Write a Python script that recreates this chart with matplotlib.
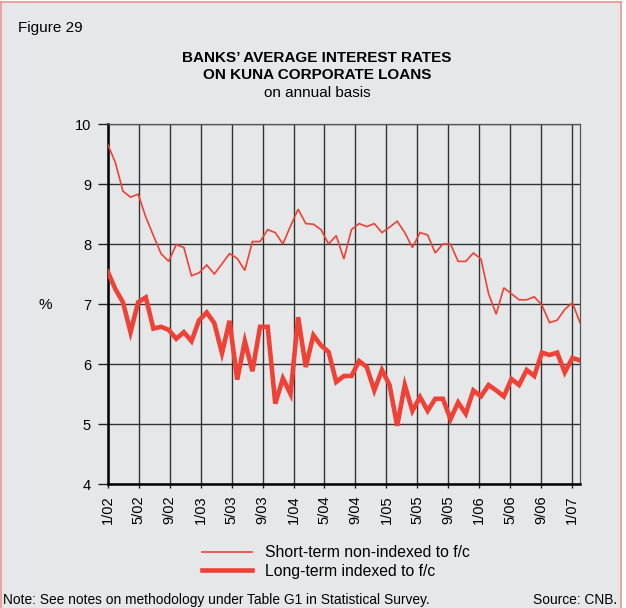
import numpy as np
import matplotlib
matplotlib.use("Agg")
import matplotlib.pyplot as plt
from matplotlib.lines import Line2D

plt.rcParams['font.family'] = ['Liberation Sans', 'DejaVu Sans']

# month labels of the vertical grid lines
tick_labels = ["1/02", "5/02", "9/02", "1/03", "5/03", "9/03", "1/04", "5/04",
               "9/04", "1/05", "5/05", "9/05", "1/06", "5/06", "9/06", "1/07"]

# short-term kuna loans not indexed to foreign currency, %
short_term = [9.66, 9.36, 8.88, 8.78, 8.83, 8.45, 8.14, 7.84, 7.71, 7.99,
              7.94, 7.47, 7.52, 7.65, 7.50, 7.67, 7.84, 7.76, 7.56, 8.04,
              8.04, 8.24, 8.19, 8.00, 8.30, 8.58, 8.34, 8.33, 8.24, 8.00,
              8.14, 7.75, 8.24, 8.34, 8.29, 8.34, 8.19, 8.28, 8.38, 8.19,
              7.94, 8.19, 8.15, 7.85, 8.00, 8.00, 7.71, 7.71, 7.85, 7.75,
              7.17, 6.83, 7.27, 7.17, 7.07, 7.07, 7.12, 6.98, 6.69, 6.73,
              6.91, 7.02, 6.69]

# long-term kuna loans indexed to foreign currency, %
long_term = [7.54, 7.25, 7.03, 6.53, 7.03, 7.11, 6.59, 6.62, 6.57, 6.42,
             6.53, 6.38, 6.73, 6.86, 6.68, 6.18, 6.72, 5.74, 6.38, 5.88,
             6.62, 6.62, 5.34, 5.76, 5.50, 6.78, 5.95, 6.48, 6.31, 6.20,
             5.70, 5.80, 5.80, 6.05, 5.95, 5.56, 5.90, 5.65, 4.97, 5.65,
             5.22, 5.45, 5.22, 5.42, 5.42, 5.08, 5.36, 5.17, 5.56, 5.46,
             5.65, 5.56, 5.46, 5.75, 5.65, 5.90, 5.80, 6.19, 6.15, 6.19,
             5.86, 6.10, 6.06]

RED = '#ef4136'
BG = '#e6e7e8'

fig = plt.figure(figsize=(6.26, 6.08), dpi=100)
fig.patch.set_facecolor('white')

# grey panel with a thin salmon frame
panel = plt.Rectangle((1 / 626, 0), 620 / 626, 1 - 2 / 608, transform=fig.transFigure,
                      facecolor=BG, edgecolor='none', zorder=-2)
fig.patches.append(panel)
for xs, ys in [([1 / 626, 1 / 626], [0, 1 - 2 / 608]),
               ([1 / 626, 621 / 626], [1 - 2 / 608, 1 - 2 / 608]),
               ([621 / 626, 621 / 626], [0, 1 - 2 / 608])]:
    fig.add_artist(Line2D(xs, ys, transform=fig.transFigure, color='#e9938c', lw=1.2))

ax = fig.add_axes([107.7 / 626, 124 / 608, 472.3 / 626, 360 / 608])
ax.set_facecolor(BG)

n = len(short_term)
x = np.linspace(0, 61, n)
ax.plot(x, short_term, color=RED, lw=1.2, solid_joinstyle='miter', zorder=3)
ax.plot(x, long_term, color=RED, lw=3.3, solid_joinstyle='miter', zorder=3)

ax.set_xlim(0, 61)
ax.set_ylim(4, 10)
ax.set_xticks(np.arange(0, 61, 4))
ax.set_xticklabels(tick_labels, rotation=90, fontsize=10.5)
ax.set_yticks(range(4, 11))
ax.tick_params(axis='y', labelsize=10.5, length=7, width=1, pad=5, color='#222222')
ax.tick_params(axis='x', length=3, width=1, pad=5, color='#222222')
ax.grid(True, color='#333333', lw=1.0)
ax.set_axisbelow(True)

for side in ['top', 'right']:
    ax.spines[side].set_color('#555555')
    ax.spines[side].set_linewidth(0.9)
for side in ['left', 'bottom']:
    ax.spines[side].set_color('black')
    ax.spines[side].set_linewidth(1.8)

fig.text(45 / 626, 1 - 305 / 608, '%', fontsize=11, ha='center', va='center')

fig.text(18 / 626, 1 - 28 / 608, 'Figure 29', fontsize=11, ha='left', va='center')
fig.text(317 / 626, 1 - 58 / 608, 'BANKS\u2019 AVERAGE INTEREST RATES', fontsize=11,
         fontweight='bold', ha='center', va='center')
fig.text(317 / 626, 1 - 75 / 608, 'ON KUNA CORPORATE LOANS', fontsize=11,
         fontweight='bold', ha='center', va='center')
fig.text(317 / 626, 1 - 93 / 608, 'on annual basis', fontsize=11,
         ha='center', va='center')

handles = [Line2D([], [], color=RED, lw=1.2), Line2D([], [], color=RED, lw=3.3)]
fig.legend(handles, ['Short-term non-indexed to f/c', 'Long-term indexed to f/c'],
           loc='center left', bbox_to_anchor=(188 / 626, 1 - 562 / 608),
           frameon=False, fontsize=11.3, handlelength=3.2, handletextpad=0.8,
           labelspacing=0.2)

fig.text(3 / 626, 1 - 600 / 608,
         'Note: See notes on methodology under Table G1 in Statistical Survey.',
         fontsize=9.9, ha='left', va='center')
fig.text(617 / 626, 1 - 600 / 608, 'Source: CNB.', fontsize=9.9, ha='right', va='center')

fig.savefig('out.png', dpi=100, facecolor=fig.get_facecolor())
